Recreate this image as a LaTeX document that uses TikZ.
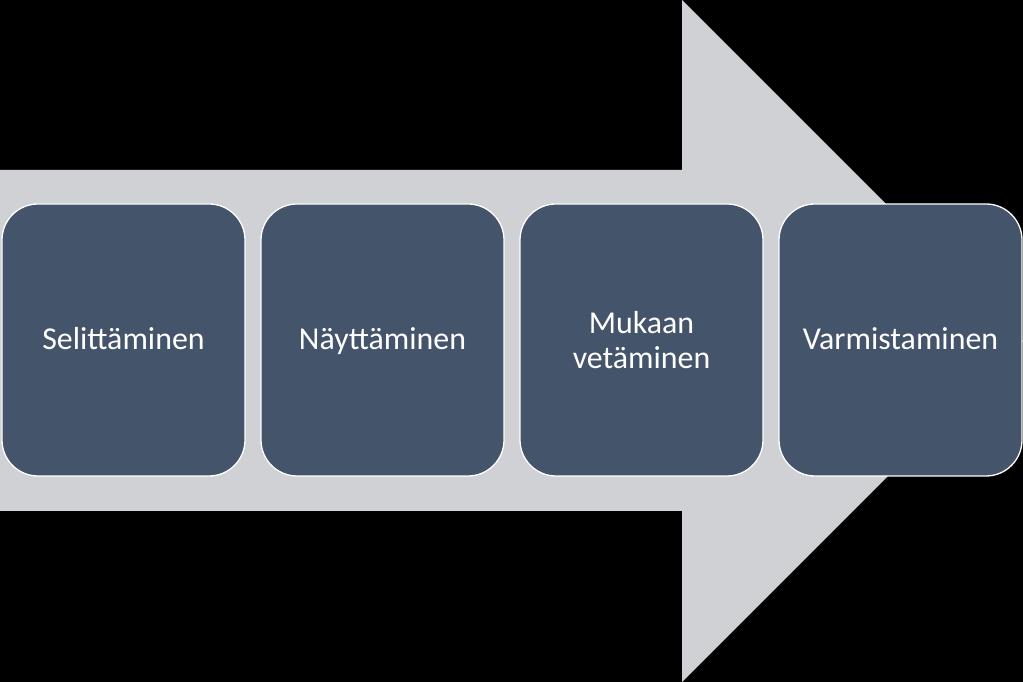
\documentclass[tikz,border=0pt]{standalone}
\usepackage{fontspec}
\setmainfont{Carlito}
\usepackage{tikz}
\usetikzlibrary{positioning}
\definecolor{arrowgray}{RGB}{208,209,213}
\definecolor{stepblue}{RGB}{68,84,106}
\newcommand{\phaseline}{\rule[-10bp]{0pt}{40bp}}

\begin{document}
\begin{tikzpicture}[x=1bp,y=1bp,
  phase/.style={draw=white,line width=1.3bp,fill=stepblue,rounded corners=36bp,
    minimum width=243bp,minimum height=272bp,outer sep=0pt,inner sep=0pt,
    text=white,align=center,font=\fontsize{32}{35}\selectfont}]
  \useasboundingbox[fill=black] (0,0) rectangle (1023,682);
  \fill[arrowgray] (0,171) -- (682,171) -- (682,0) -- (1023,341)
    -- (682,682) -- (682,512) -- (0,512) -- cycle;
  \node[phase] (s) at (123.5,342) {\phaseline Selittäminen};
  \node[phase,right=16bp of s] (n) {\phaseline Näyttäminen};
  \node[phase,right=16bp of n] (m) {Mukaan\\vetäminen};
  \node[phase,right=16bp of m] (v) {\phaseline Varmistaminen};
\end{tikzpicture}
\end{document}
